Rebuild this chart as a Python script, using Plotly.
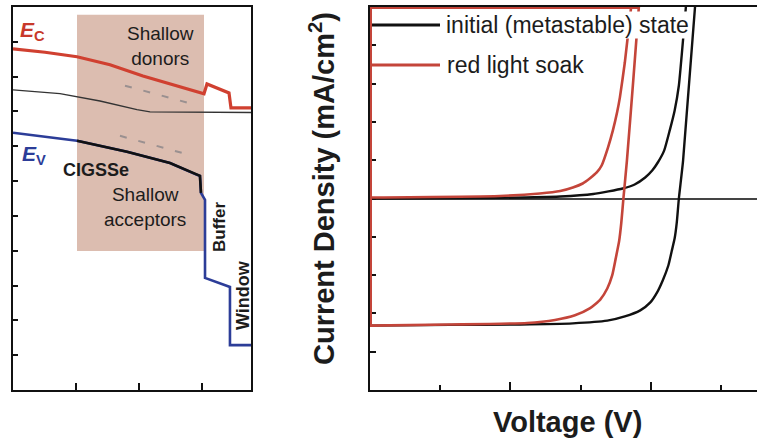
import plotly.graph_objects as go

# ---------------- Left panel: band diagram (arbitrary units) ----------------
ec_x = [0, 0.508, 1.016, 1.540, 2.063, 2.571, 3.032, 3.079, 3.429, 3.460, 3.778]
ec_y = [9.80, 9.70, 9.57, 9.34, 9.02, 8.76, 8.51, 8.79, 8.53, 8.10, 8.10]

ef_x = [0, 0.746, 1.381, 1.968, 2.175, 3.778]
ef_y = [8.62, 8.51, 8.30, 8.05, 7.99, 7.97]

ev_x = [0, 1.016, 1.810, 2.492, 2.921, 2.968, 2.984, 3.048, 3.048, 3.444, 3.444, 3.778]
ev_y = [7.39, 7.16, 6.84, 6.52, 6.18, 6.15, 5.66, 5.46, 3.22, 2.96, 1.29, 1.29]

cigsse_x = [1.016, 1.810, 2.492, 2.921, 2.968, 2.984]
cigsse_y = [7.16, 6.84, 6.52, 6.18, 6.15, 5.66]

donor_x = [1.778, 2.778]
donor_y = [8.74, 8.25]
acceptor_x = [1.698, 2.683]
acceptor_y = [7.30, 6.81]

shade_x = [1.016, 3.032]
shade_y = [3.99, 10.78]

# ---------------- Right panel: J-V curves (V, mA/cm^2) ----------------
J_TOP = 50
# initial (metastable) state, illuminated
v_init_light = [0, 0.114, 0.214, 0.289, 0.338, 0.363, 0.385, 0.399, 0.409, 0.417, 0.425,
                0.430, 0.434, 0.437, 0.440, 0.446, 0.463]
j_init_light = [-33.2, -33.0, -32.9, -32.6, -31.9, -30.8, -29.2, -27.2, -24.5, -21.4, -17.5,
                -13.6, -10.4, -6.3, 0, 9.9, 50]
# initial (metastable) state, dark
v_init_dark = [0, 0.185, 0.271, 0.318, 0.360, 0.377, 0.392, 0.402, 0.410, 0.419, 0.427,
               0.434, 0.440, 0.444, 0.450]
j_init_dark = [0, 0.18, 0.52, 1.17, 2.61, 3.66, 5.48, 7.31, 9.40, 12.5, 17.8,
               23.0, 29.5, 37.3, 50]
# red light soak, illuminated
v_red_light = [0, 0.114, 0.224, 0.2635, 0.292, 0.313, 0.328, 0.338, 0.345, 0.350,
               0.355, 0.358, 0.361, 0.366, 0.375, 0.383]
j_red_light = [-33.2, -32.9, -32.5, -31.7, -30.5, -28.7, -26.4, -23.5, -20.1, -15.7,
               -11.0, -6.3, 0, 9.9, 30.8, 50]
# red light soak, dark
v_red_dark = [0, 0.185, 0.242, 0.271, 0.289, 0.303, 0.313, 0.323, 0.330, 0.339, 0.346,
              0.352, 0.356, 0.363, 0.372]
j_red_dark = [0.26, 0.65, 1.31, 1.96, 2.87, 3.92, 5.22, 6.79, 8.62, 13.3, 17.8,
              22.5, 26.4, 35.5, 50]

legend_labels = ["initial (metastable) state", "red light soak"]

RED = "#c4453a"
BLUE = "#2c3d98"
BLACK = "#111111"
FONT = "Liberation Sans"

W, H = 757, 442


def px(x):
    return x / W


def py(y):
    return 1 - y / H


fig = go.Figure()

# left panel traces
fig.add_trace(go.Scatter(x=ef_x, y=ef_y, mode="lines", line=dict(color="#333333", width=1.3),
                         xaxis="x", yaxis="y", showlegend=False, hoverinfo="skip"))
fig.add_trace(go.Scatter(x=donor_x, y=donor_y, mode="lines",
                         line=dict(color="#9a9090", width=2, dash="7px,12px"),
                         xaxis="x", yaxis="y", showlegend=False))
fig.add_trace(go.Scatter(x=acceptor_x, y=acceptor_y, mode="lines",
                         line=dict(color="#9a9090", width=2, dash="7px,12px"),
                         xaxis="x", yaxis="y", showlegend=False))
fig.add_trace(go.Scatter(x=ec_x, y=ec_y, mode="lines", line=dict(color="#d04030", width=3.2),
                         xaxis="x", yaxis="y", showlegend=False))
fig.add_trace(go.Scatter(x=ev_x, y=ev_y, mode="lines", line=dict(color=BLUE, width=2.6),
                         xaxis="x", yaxis="y", showlegend=False))
fig.add_trace(go.Scatter(x=cigsse_x, y=cigsse_y, mode="lines", line=dict(color=BLACK, width=2.6),
                         xaxis="x", yaxis="y", showlegend=False))

# right panel traces
fig.add_trace(go.Scatter(x=v_init_dark, y=j_init_dark, mode="lines", name=legend_labels[0],
                         line=dict(color=BLACK, width=2.4, shape="spline", smoothing=0.5),
                         xaxis="x2", yaxis="y2", showlegend=False))
fig.add_trace(go.Scatter(x=v_init_light, y=j_init_light, mode="lines", name=legend_labels[0],
                         line=dict(color=BLACK, width=2.4, shape="spline", smoothing=0.5),
                         xaxis="x2", yaxis="y2", showlegend=False))
fig.add_trace(go.Scatter(x=v_red_dark, y=j_red_dark, mode="lines", name=legend_labels[1],
                         line=dict(color=RED, width=2.6, shape="spline", smoothing=0.5),
                         xaxis="x2", yaxis="y2", showlegend=False))
# outline of the red light-soak curve running along the frame (left and top edges)
fig.add_trace(go.Scatter(x=[v_red_light[-1], 0, 0], y=[J_TOP, J_TOP, j_red_light[0]], mode="lines",
                         line=dict(color=RED, width=4), xaxis="x2", yaxis="y2", showlegend=False,
                         hoverinfo="skip"))
fig.add_trace(go.Scatter(x=v_red_light, y=j_red_light, mode="lines", name=legend_labels[1],
                         line=dict(color=RED, width=2.6, shape="spline", smoothing=0.5),
                         xaxis="x2", yaxis="y2", showlegend=False))

shapes = [
    dict(type="rect", xref="x", yref="y", x0=shade_x[0], x1=shade_x[1],
         y0=shade_y[0], y1=shade_y[1], fillcolor="#dcbdb0", line=dict(width=0), layer="below"),
    # legend samples
    dict(type="line", xref="paper", yref="paper", x0=px(372), x1=px(440), y0=py(25), y1=py(25),
         line=dict(color=BLACK, width=3)),
    dict(type="line", xref="paper", yref="paper", x0=px(372), x1=px(440), y0=py(65), y1=py(65),
         line=dict(color=RED, width=3)),
]

txt = "#1c1c1c"
annotations = [
    dict(text="<b><i>E</i><sub>C</sub></b>", x=px(18), y=py(31), xref="paper", yref="paper",
         xanchor="left", yanchor="middle", showarrow=False, font=dict(family=FONT, size=21, color="#c8392b")),
    dict(text="<b><i>E</i><sub>V</sub></b>", x=px(20), y=py(155), xref="paper", yref="paper",
         xanchor="left", yanchor="middle", showarrow=False, font=dict(family=FONT, size=21, color=BLUE)),
    dict(text="Shallow<br>donors", x=px(160), y=py(46), xref="paper", yref="paper",
         xanchor="center", yanchor="middle", showarrow=False, font=dict(family=FONT, size=19, color=txt)),
    dict(text="<b>CIGSSe</b>", x=px(61), y=py(170), xref="paper", yref="paper",
         xanchor="left", yanchor="middle", showarrow=False, font=dict(family=FONT, size=18, color=txt)),
    dict(text="Shallow<br>acceptors", x=px(145), y=py(207), xref="paper", yref="paper",
         xanchor="center", yanchor="middle", showarrow=False, font=dict(family=FONT, size=19, color=txt)),
    dict(text="<b>Buffer</b>", x=px(220), y=py(227), xref="paper", yref="paper", textangle=-90,
         xanchor="center", yanchor="middle", showarrow=False, font=dict(family=FONT, size=17, color=txt)),
    dict(text="<b>Window</b>", x=px(243), y=py(295), xref="paper", yref="paper", textangle=-90,
         xanchor="center", yanchor="middle", showarrow=False, font=dict(family=FONT, size=18, color=txt)),
    # legend texts
    dict(text=legend_labels[0], x=px(445), y=py(25), xref="paper", yref="paper",
         xanchor="left", yanchor="middle", showarrow=False, bgcolor="white", borderpad=0,
         font=dict(family=FONT, size=23, color=txt)),
    dict(text=legend_labels[1], x=px(445), y=py(65), xref="paper", yref="paper",
         xanchor="left", yanchor="middle", showarrow=False,
         font=dict(family=FONT, size=23, color=txt)),
    # axis titles
    dict(text="<b>Voltage (V)</b>", x=px(567), y=py(422), xref="paper", yref="paper",
         xanchor="center", yanchor="middle", showarrow=False, font=dict(family=FONT, size=29, color=txt)),
    dict(text="<b>Current Density (mA/cm<sup>2</sup>)</b>", x=px(322), y=py(189), xref="paper", yref="paper",
         textangle=-90, xanchor="center", yanchor="middle", showarrow=False,
         font=dict(family=FONT, size=29, color=txt)),
]

ydom = [py(390), py(7)]
axis_common = dict(showgrid=False, zeroline=False, showticklabels=False, showline=True,
                   linecolor=BLACK, linewidth=1.5, ticks="inside", tickcolor=BLACK, tickwidth=1.5)

fig.update_layout(
    width=W, height=H, margin=dict(l=0, r=0, t=0, b=0),
    paper_bgcolor="white", plot_bgcolor="white", showlegend=False,
    xaxis=dict(domain=[px(13), px(251)], range=[0, 3.778], tickvals=[1, 2, 3], ticklen=7,
               mirror=True, anchor="y", **axis_common),
    yaxis=dict(domain=ydom, range=[0, 11.0], tickvals=list(range(1, 11)), ticklen=5,
               mirror=True, anchor="x", **axis_common),
    xaxis2=dict(domain=[px(370), 1], range=[0, 0.5513], tick0=0, dtick=0.2, ticklen=8,
                mirror=True, anchor="y2", layer="below traces",
                minor=dict(dtick=0.1, ticks="inside", ticklen=5, tickcolor=BLACK, tickwidth=1.5, showgrid=False),
                **axis_common),
    yaxis2=dict(domain=ydom, range=[-50, 50], tick0=0, dtick=10, ticklen=6, anchor="x2",
                layer="below traces",
                **{**axis_common, "zeroline": True}, zerolinecolor="#444444", zerolinewidth=1.5),
    shapes=shapes,
    annotations=annotations,
)

fig.write_html("out.html")
